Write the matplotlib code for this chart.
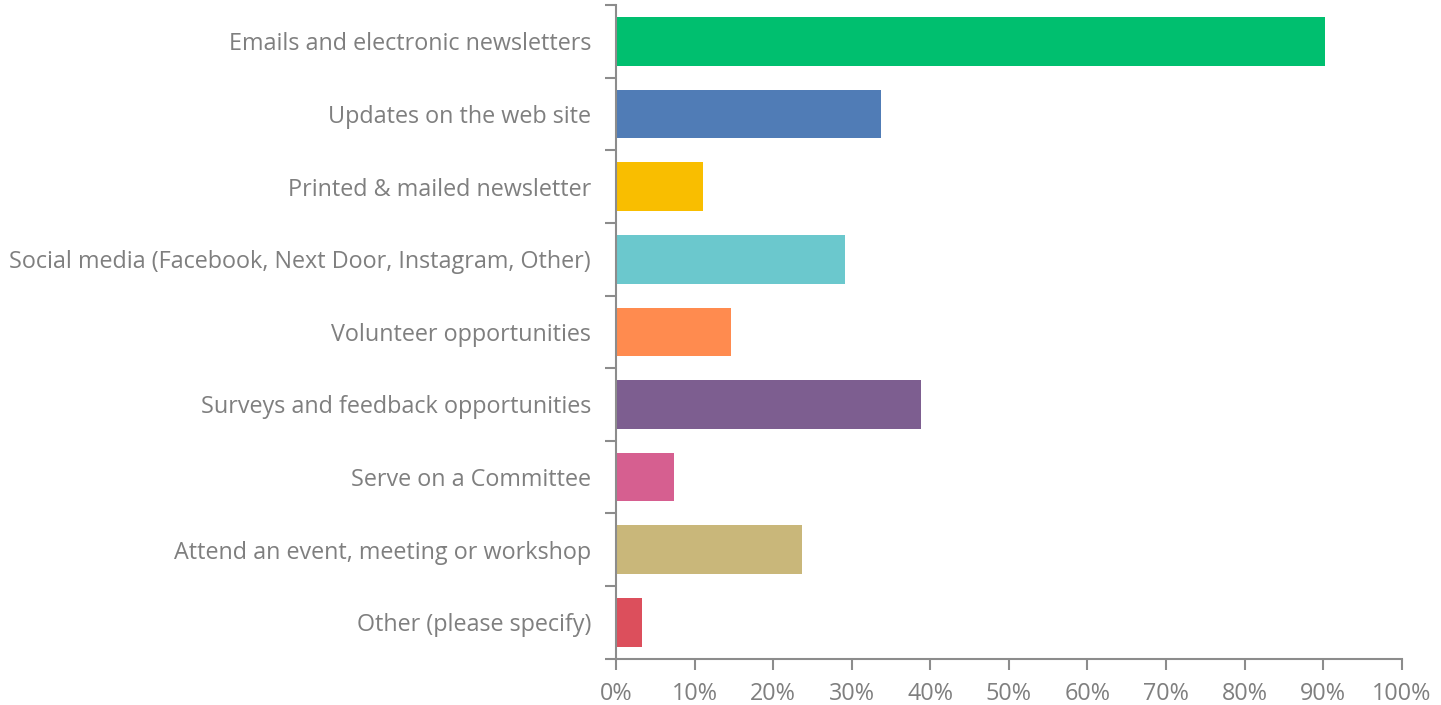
import matplotlib.pyplot as plt
import numpy as np

# survey answers, top to bottom
categories = [
    "Emails and electronic newsletters",
    "Updates on the web site",
    "Printed & mailed newsletter",
    "Social media (Facebook, Next Door, Instagram, Other)",
    "Volunteer opportunities",
    "Surveys and feedback opportunities",
    "Serve on a Committee",
    "Attend an event, meeting or workshop",
    "Other (please specify)",
]
percents = [90.2, 33.7, 11.1, 29.1, 14.6, 38.8, 7.4, 23.7, 3.3]
colors = ["#00BF6F", "#507CB6", "#F9BE00", "#6BC8CD", "#FF8B4F",
          "#7D5E90", "#D65F90", "#C9B77A", "#DC4F5C"]
xticks = list(range(0, 101, 10))

plt.rcParams['font.family'] = ['Open Sans', 'DejaVu Sans']
txt = "#7f7f7f"
axc = "#8c8c8c"

fig = plt.figure(figsize=(14.41, 7.05), dpi=100)
ax = fig.add_axes([0.4275, 0.0657, 0.9727 - 0.4275, 0.9929 - 0.0657])

y = np.arange(len(categories))
ax.barh(y, percents, height=0.67, color=colors)
ax.set_ylim(len(categories) - 0.5, -0.5)
ax.set_xlim(0, 100)

ax.set_xticks(xticks)
ax.set_xticklabels([f"{v}%" for v in xticks])
ax.set_yticks(y)
ax.set_yticklabels(categories)
# ticks sit on the band edges
ax.set_yticks(np.arange(-0.5, len(categories), 1.0), minor=True)
ax.tick_params(axis='y', which='major', length=0, pad=18, labelsize=16.8, labelcolor=txt)
ax.tick_params(axis='y', which='minor', length=8, width=1.5, color=axc, direction='out')
ax.tick_params(axis='x', length=8, width=1.5, color=axc, labelsize=16.8, labelcolor=txt, pad=9)

for s in ['top', 'right']:
    ax.spines[s].set_visible(False)
for s in ['left', 'bottom']:
    ax.spines[s].set_color(axc)
    ax.spines[s].set_linewidth(1.5)

fig.savefig("out.png", dpi=100)
